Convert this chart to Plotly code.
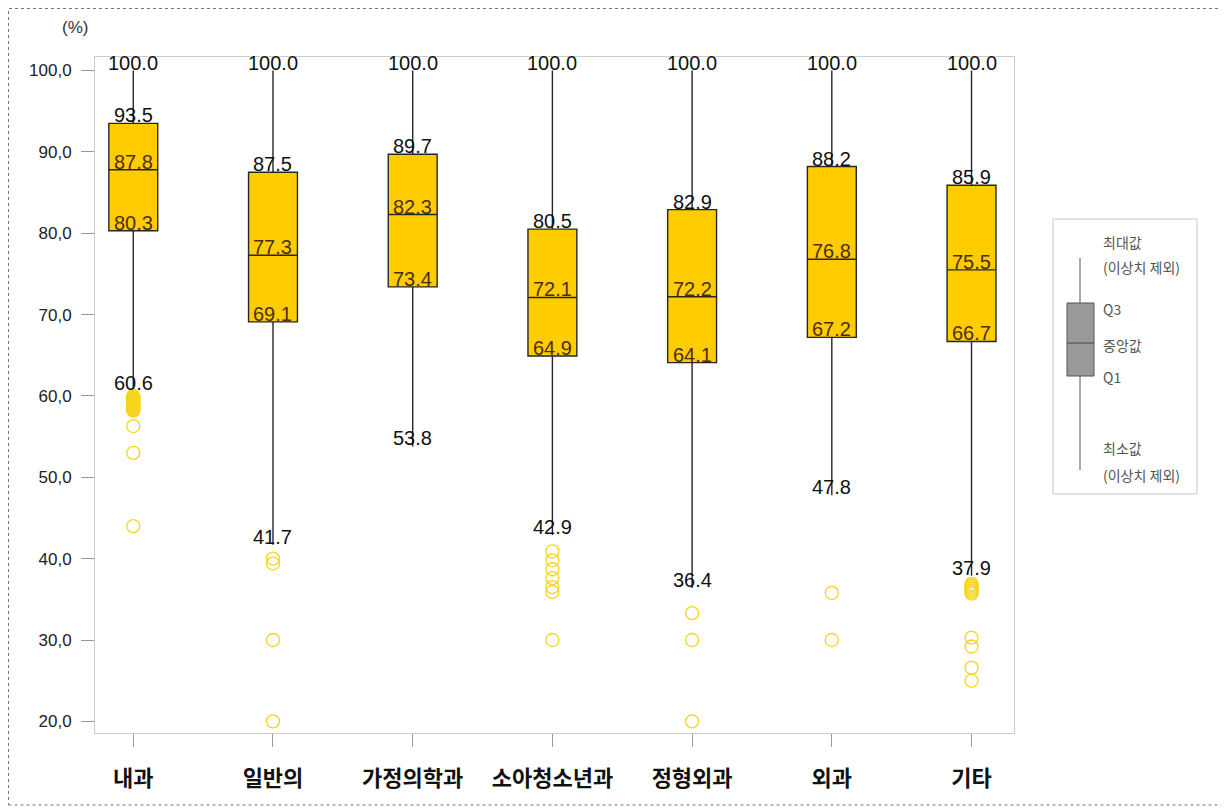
import plotly.graph_objects as go

# ---------------- data ----------------
categories = ["내과", "일반의", "가정의학과", "소아청소년과", "정형외과", "외과", "기타"]
max_vals = [100.0, 100.0, 100.0, 100.0, 100.0, 100.0, 100.0]
q3_vals = [93.5, 87.5, 89.7, 80.5, 82.9, 88.2, 85.9]
median_vals = [87.8, 77.3, 82.3, 72.1, 72.2, 76.8, 75.5]
q1_vals = [80.3, 69.1, 73.4, 64.9, 64.1, 67.2, 66.7]
min_vals = [60.6, 41.7, 53.8, 42.9, 36.4, 47.8, 37.9]
outliers = [
    [60.0, 59.9, 59.8, 59.7, 59.6, 59.5, 59.4, 59.3, 59.2, 59.1, 59.0, 58.9, 58.8,
     58.7, 58.6, 58.5, 58.4, 58.3, 58.2, 56.3, 53.0, 44.0],
    [40.0, 39.4, 30.0, 20.0],
    [],
    [40.9, 39.8, 38.7, 37.6, 36.5, 35.9, 30.0],
    [33.3, 30.0, 20.0],
    [35.8, 30.0],
    [36.9, 36.7, 36.5, 36.3, 36.1, 35.9, 35.7, 30.3, 29.2, 26.6, 25.0],
]
y_ticks = [20, 30, 40, 50, 60, 70, 80, 90, 100]
y_ticktext = ["20,0", "30,0", "40,0", "50,0", "60,0", "70,0", "80,0", "90,0", "100,0"]

legend_labels = ["최대값", "(이상치 제외)", "Q3", "중앙값", "Q1", "최소값", "(이상치 제외)"]

# ---------------- layout helpers ----------------
# the page body has an 8px margin, so page pixel p maps to figure pixel p - 8
OFF = 8
W, H = 1229 - OFF, 811 - OFF
L, R, T, B = 95 - OFF, 1014 - OFF, 57 - OFF, 733 - OFF


def px_x(px):
    return (px - OFF - L) / (R - L)


def px_y(py):
    return (B - (py - OFF)) / (B - T)


BOX_FILL = "#FFCC00"
OUT_COLOR = "#F8D41E"
LABEL_FONT = "Liberation Sans"
KR_FONT = "Noto Sans CJK KR"

fig = go.Figure()

fig.add_trace(go.Box(
    x=categories,
    q1=q1_vals,
    median=median_vals,
    q3=q3_vals,
    lowerfence=min_vals,
    upperfence=max_vals,
    boxpoints=False,
    whiskerwidth=0,
    width=0.35,
    fillcolor=BOX_FILL,
    line=dict(color="#262626", width=1.4),
    showlegend=False,
    hoverinfo="skip",
))

ox, oy = [], []
for c, vals in zip(categories, outliers):
    for v in vals:
        ox.append(c)
        oy.append(v)

fig.add_trace(go.Scatter(
    x=ox, y=oy, mode="markers",
    marker=dict(symbol="circle-open", size=13, color=OUT_COLOR, line=dict(width=1.3)),
    showlegend=False, hoverinfo="skip",
))

annotations = []
for c, mx, q3, md, q1, mn in zip(categories, max_vals, q3_vals, median_vals, q1_vals, min_vals):
    for v, col in [(mx, "#111111"), (q3, "#111111"), (md, "#4a3000"), (q1, "#4a3000"), (mn, "#111111")]:
        annotations.append(dict(
            x=c, y=v, xref="x", yref="y", text=f"{v:.1f}", showarrow=False,
            yanchor="bottom", xanchor="center", yshift=-5,
            font=dict(family=LABEL_FONT, size=20, color=col),
        ))

# (%) axis unit
annotations.append(dict(
    x=px_x(75), y=px_y(27), xref="paper", yref="paper", text="(%)", showarrow=False,
    xanchor="center", yanchor="middle", font=dict(family=LABEL_FONT, size=17, color="#333333"),
))

# legend texts
legend_y = [242, 267, 309, 345, 377, 448, 475]
for txt, ly in zip(legend_labels, legend_y):
    annotations.append(dict(
        x=px_x(1101), y=px_y(ly), xref="paper", yref="paper", text=txt, showarrow=False,
        xanchor="left", yanchor="middle", font=dict(family=KR_FONT, size=14, color="#555555"),
    ))

shapes = [
    # outer dotted frame
    dict(type="rect", xref="paper", yref="paper",
         x0=px_x(8.5), x1=px_x(1223), y0=px_y(805), y1=px_y(8.5),
         line=dict(color="#777777", width=1, dash="dot"), layer="below"),
    # legend frame
    dict(type="rect", xref="paper", yref="paper",
         x0=px_x(1053), x1=px_x(1197), y0=px_y(494), y1=px_y(219),
         line=dict(color="#c8c8c8", width=1)),
    # legend whisker
    dict(type="line", xref="paper", yref="paper",
         x0=px_x(1080), x1=px_x(1080), y0=px_y(470), y1=px_y(258),
         line=dict(color="#555555", width=1)),
    # legend box
    dict(type="rect", xref="paper", yref="paper",
         x0=px_x(1067), x1=px_x(1094), y0=px_y(376), y1=px_y(303),
         fillcolor="#999999", line=dict(color="#555555", width=1)),
    # legend median
    dict(type="line", xref="paper", yref="paper",
         x0=px_x(1067), x1=px_x(1094), y0=px_y(343), y1=px_y(343),
         line=dict(color="#444444", width=1)),
]

fig.update_layout(
    width=W, height=H,
    margin=dict(l=L, r=W - R, t=T, b=H - B),
    paper_bgcolor="white", plot_bgcolor="white",
    annotations=annotations, shapes=shapes,
    showlegend=False,
)

fig.update_xaxes(
    type="category", range=[-0.274, 6.304],
    showline=True, linecolor="#cccccc", linewidth=1, mirror=True,
    ticks="outside", ticklen=13, tickcolor="#999999", tickwidth=1,
    showgrid=False, zeroline=False,
    tickfont=dict(family=KR_FONT, size=22, color="#111111", weight="bold"),
    ticklabelstandoff=13,
)
fig.update_yaxes(
    range=[18.57, 101.66],
    tickvals=y_ticks, ticktext=y_ticktext,
    showline=True, linecolor="#cccccc", linewidth=1, mirror=True,
    ticks="outside", ticklen=13, tickcolor="#999999", tickwidth=1,
    showgrid=False, zeroline=False,
    tickfont=dict(family=LABEL_FONT, size=17, color="#222222"),
    ticklabelstandoff=6,
)

fig.write_html("out.html")
